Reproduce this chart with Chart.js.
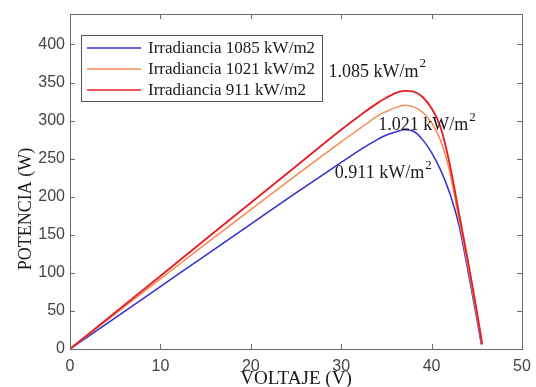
<!DOCTYPE html>
<html>

<head>
  <script src="https://cdn.jsdelivr.net/npm/chart.js@4.4.0/dist/chart.umd.min.js"></script>
  <style>
    body { margin: 0; background: #fff; }
  </style>
</head>

<body>
  <canvas id="myChart" width="536" height="387"></canvas>
  <script type="text/javascript">
    // data
    var labels = ['Irradiancia 1085 kW/m2', 'Irradiancia 1021 kW/m2', 'Irradiancia 911 kW/m2'];
    var colors = ['#2f2fd2', '#f58a4e', '#e62028'];

    var voltsBlue   = [0, 5, 10, 15, 20, 25, 30, 32, 34, 35, 36, 37, 38, 39, 40, 41, 42, 43, 44, 45, 45.5];
    var powerBlue   = [0, 41, 82, 123, 164, 205, 245, 261, 275, 281, 285, 288, 286, 275, 258, 235, 205, 164, 104, 40, 6];
    var voltsOrange = [0, 5, 10, 15, 20, 25, 30, 32, 34, 35, 36, 37, 38, 39, 40, 41, 42, 43, 44, 45, 45.55];
    var powerOrange = [0, 46, 92, 138, 183, 228, 272, 289, 306, 312, 317, 320, 318, 311, 297, 274, 233, 172, 110, 44, 6];
    var voltsRed    = [0, 5, 10, 15, 20, 25, 30, 32, 34, 35, 36, 37, 38, 39, 40, 41, 42, 43, 44, 45, 45.6];
    var powerRed    = [0, 48, 96, 144, 192, 240, 288, 306, 323, 330, 336, 339, 338, 331, 316, 291, 243, 180, 117, 50, 6];

    var xTicks = [0, 10, 20, 30, 40, 50];
    var yTicks = [0, 50, 100, 150, 200, 250, 300, 350, 400];
    var xTitle = 'VOLTAJE (V)';
    var yTitle = 'POTENCIA (W)';

    // curve labels
    var annText = ['1.085 kW/m', '1.021 kW/m', '0.911 kW/m'];
    var annV = [28.6, 34.1, 29.3];
    var annP = [364, 294, 231];

    function pts(vs, ps) {
      return vs.map(function(v, i) { return {x: v, y: ps[i]}; });
    }

    var serif = "'Liberation Serif', 'Times New Roman', serif";
    var sans = "'Liberation Sans', Arial, sans-serif";

    // box, inward ticks, legend, axis titles and curve labels
    var matlabLook = {
      id: 'matlabLook',
      afterDatasetsDraw: function(chart) {
        var ctx = chart.ctx;
        var a = chart.chartArea;
        var xs = chart.scales.x, ys = chart.scales.y;
        ctx.save();
        ctx.strokeStyle = '#6b6b6b';
        ctx.lineWidth = 1;
        ctx.strokeRect(a.left + 0.5, a.top + 0.5, a.right - a.left, a.bottom - a.top);
        ctx.beginPath();
        xTicks.forEach(function(v) {
          var px = Math.round(xs.getPixelForValue(v)) + 0.5;
          ctx.moveTo(px, a.bottom); ctx.lineTo(px, a.bottom - 5);
          ctx.moveTo(px, a.top); ctx.lineTo(px, a.top + 5);
        });
        yTicks.forEach(function(v) {
          var py = Math.round(ys.getPixelForValue(v)) + 0.5;
          ctx.moveTo(a.left, py); ctx.lineTo(a.left + 5, py);
          ctx.moveTo(a.right, py); ctx.lineTo(a.right - 5, py);
        });
        ctx.stroke();

        // legend
        var lx = a.left + 11, ly = a.top + 21, lw = 241, lh = 66;
        ctx.fillStyle = '#fff';
        ctx.fillRect(lx, ly, lw, lh);
        ctx.strokeStyle = '#555';
        ctx.strokeRect(lx + 0.5, ly + 0.5, lw, lh);
        ctx.font = '17px ' + serif;
        ctx.textBaseline = 'middle';
        ctx.textAlign = 'left';
        chart.data.datasets.forEach(function(ds, i) {
          var ry = ly + 13 + i * 21;
          ctx.strokeStyle = ds.borderColor;
          ctx.lineWidth = 1.6;
          ctx.beginPath();
          ctx.moveTo(lx + 6, ry); ctx.lineTo(lx + 60, ry);
          ctx.stroke();
          ctx.fillStyle = '#1a1a1a';
          ctx.fillText(ds.label, lx + 67, ry + 1);
        });

        // curve labels with superscript
        annText.forEach(function(t, i) {
          var x = xs.getPixelForValue(annV[i]);
          var y = ys.getPixelForValue(annP[i]);
          ctx.font = '18px ' + serif;
          ctx.fillStyle = '#1a1a1a';
          ctx.fillText(t, x, y);
          var w = ctx.measureText(t).width;
          ctx.font = '13px ' + serif;
          ctx.fillText('2', x + w + 1, y - 8);
        });

        // axis titles
        ctx.fillStyle = '#1a1a1a';
        ctx.textAlign = 'center';
        ctx.font = '18px ' + serif;
        ctx.save();
        ctx.translate((a.left + a.right) / 2, a.bottom + 30);
        ctx.scale(1.06, 1);
        ctx.fillText(xTitle, 0, 0);
        ctx.restore();
        ctx.save();
        ctx.translate(a.left - 44, a.bottom - 140);
        ctx.rotate(-Math.PI / 2);
        ctx.fillText(yTitle, 0, 0);
        ctx.restore();
        ctx.restore();
      }
    };

    var ctx = document.getElementById('myChart').getContext('2d');
    var chart = new Chart(ctx, {
      type: 'line',
      data: {
        datasets: [{
          label: labels[0],
          data: pts(voltsBlue, powerBlue),
          borderColor: colors[0],
          borderWidth: 1.5,
          order: 2
        }, {
          label: labels[1],
          data: pts(voltsOrange, powerOrange),
          borderColor: colors[1],
          borderWidth: 1.5,
          order: 1
        }, {
          label: labels[2],
          data: pts(voltsRed, powerRed),
          borderColor: colors[2],
          borderWidth: 1.9,
          order: 0
        }]
      },
      options: {
        responsive: false,
        animation: false,
        devicePixelRatio: 1,
        elements: {
          point: { radius: 0 },
          line: { fill: false, cubicInterpolationMode: 'monotone' }
        },
        layout: { padding: { top: 14, right: 14, left: 0, bottom: 0 } },
        plugins: {
          legend: { display: false },
          tooltip: { enabled: false }
        },
        scales: {
          x: {
            type: 'linear',
            min: 0,
            max: 50,
            afterBuildTicks: function(s) { s.ticks = xTicks.map(function(v) { return {value: v}; }); },
            afterFit: function(s) { s.height = 38; s.paddingLeft = 0; s.paddingRight = 0; },
            grid: { display: false, drawTicks: false },
            border: { display: false },
            ticks: { color: '#444', padding: 8, maxRotation: 0, font: { family: sans, size: 16 } },
            title: { display: false }
          },
          y: {
            type: 'linear',
            min: 0,
            max: 440,
            afterBuildTicks: function(s) { s.ticks = yTicks.map(function(v) { return {value: v}; }); },
            afterFit: function(s) { s.width = 70; s.paddingTop = 0; s.paddingBottom = 0; },
            grid: { display: false, drawTicks: false },
            border: { display: false },
            ticks: { color: '#444', padding: 5, font: { family: sans, size: 16 } },
            title: { display: false }
          }
        }
      },
      plugins: [matlabLook]
    });
  </script>
</body>

</html>
